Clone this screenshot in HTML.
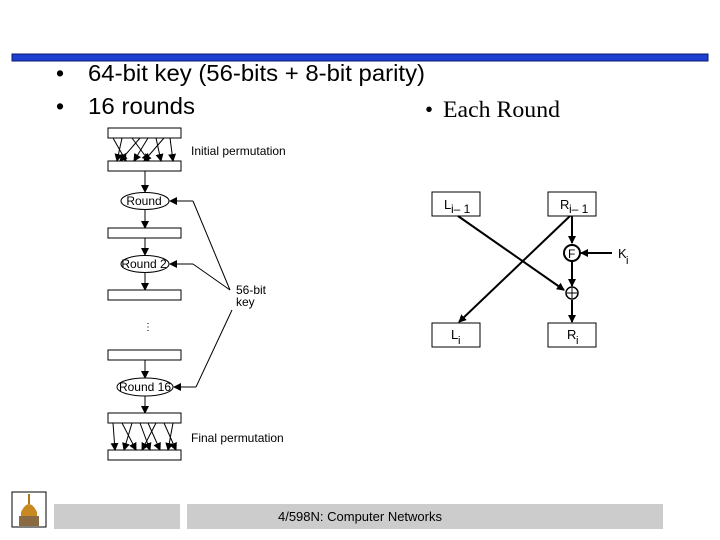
<!DOCTYPE html>
<html><head><meta charset="utf-8"><style>
body{margin:0;background:#fff;width:720px;height:540px;overflow:hidden;position:relative;font-family:"Liberation Sans",sans-serif}
</style></head><body>
<svg width="720" height="540" viewBox="0 0 720 540" xmlns="http://www.w3.org/2000/svg" style="position:absolute;left:0;top:0">
<defs>
<marker id="a" markerWidth="8" markerHeight="8" refX="7" refY="4" orient="auto" markerUnits="userSpaceOnUse"><path d="M0,0L8,4L0,8z" fill="#000"/></marker>
</defs>
<rect x="12" y="54" width="696" height="7" fill="#1c3fd0" stroke="#0a1a70" stroke-width="1"/>
<g font-size="23" fill="#000">
<text x="56" y="81">•</text><text x="88" y="81" textLength="337" lengthAdjust="spacingAndGlyphs">64-bit key (56-bits + 8-bit parity)</text>
<text x="56" y="114">•</text><text x="88" y="114" textLength="107" lengthAdjust="spacingAndGlyphs">16 rounds</text>
</g>
<text x="425" y="117" font-size="23" font-family="Liberation Serif,serif">•</text>
<text x="443" y="117" font-size="23" font-family="Liberation Serif,serif" textLength="117" lengthAdjust="spacingAndGlyphs">Each Round</text>
<g stroke="#000" fill="none" stroke-width="1">
<rect x="108" y="128" width="73" height="10" fill="#fff"/>
<rect x="108" y="161" width="73" height="10" fill="#fff"/>
<g marker-end="url(#a)">
<line x1="113" y1="138" x2="126" y2="161"/><line x1="122" y1="138" x2="117" y2="161"/>
<line x1="132" y1="138" x2="149" y2="161"/><line x1="140" y1="138" x2="120" y2="161"/>
<line x1="148" y1="138" x2="134" y2="161"/><line x1="156" y1="138" x2="161" y2="161"/>
<line x1="164" y1="138" x2="144" y2="161"/><line x1="170" y1="138" x2="173" y2="161"/>
</g>
<line x1="145" y1="171" x2="145" y2="192" marker-end="url(#a)"/>
<ellipse cx="145" cy="201" rx="24" ry="8.5" fill="#fff"/>
<line x1="145" y1="210" x2="145" y2="228" marker-end="url(#a)"/>
<rect x="108" y="228" width="73" height="10" fill="#fff"/>
<line x1="145" y1="238" x2="145" y2="255" marker-end="url(#a)"/>
<ellipse cx="145" cy="264" rx="24" ry="8.5" fill="#fff"/>
<line x1="145" y1="273" x2="145" y2="290" marker-end="url(#a)"/>
<rect x="108" y="290" width="73" height="10" fill="#fff"/>
<rect x="108" y="350" width="73" height="10" fill="#fff"/>
<line x1="145" y1="360" x2="145" y2="378" marker-end="url(#a)"/>
<ellipse cx="145" cy="387" rx="28" ry="9" fill="#fff"/>
<line x1="145" y1="396" x2="145" y2="413" marker-end="url(#a)"/>
<rect x="108" y="413" width="73" height="10" fill="#fff"/>
<rect x="108" y="450" width="73" height="10" fill="#fff"/>
<g marker-end="url(#a)">
<line x1="113" y1="423" x2="115" y2="450"/><line x1="122" y1="423" x2="136" y2="450"/>
<line x1="132" y1="423" x2="124" y2="450"/><line x1="140" y1="423" x2="150" y2="450"/>
<line x1="148" y1="423" x2="160" y2="450"/><line x1="156" y1="423" x2="142" y2="450"/>
<line x1="164" y1="423" x2="176" y2="450"/><line x1="173" y1="423" x2="168" y2="450"/>
</g>
<polyline points="193,201 230,290" /><line x1="193" y1="201" x2="170" y2="201" marker-end="url(#a)"/>
<polyline points="193,264 230,290" /><line x1="193" y1="264" x2="170" y2="264" marker-end="url(#a)"/>
<polyline points="196,387 232,310" /><line x1="196" y1="387" x2="174" y2="387" marker-end="url(#a)"/>
</g>
<g font-size="12" fill="#000">
<text x="144" y="205" text-anchor="middle">Round</text>
<text x="144" y="268" text-anchor="middle">Round 2</text>
<text x="145" y="391" text-anchor="middle">Round 16</text>
<text x="191" y="155">Initial permutation</text>
<text x="191" y="442">Final permutation</text>
<text x="236" y="294">56-bit</text>
<text x="236" y="306">key</text>
<text x="143" y="330" font-size="10">⋮</text>
</g>
<g stroke="#000" fill="none">
<rect x="432" y="192" width="48" height="24" stroke-width="1"/>
<rect x="548" y="192" width="48" height="24" stroke-width="1"/>
<rect x="432" y="323" width="48" height="24" stroke-width="1"/>
<rect x="548" y="323" width="48" height="24" stroke-width="1"/>
<g stroke-width="2">
<line x1="458" y1="216" x2="564" y2="290" marker-end="url(#a)"/>
<line x1="570" y1="216" x2="459" y2="322" marker-end="url(#a)"/>
<line x1="572" y1="216" x2="572" y2="243" marker-end="url(#a)"/>
<line x1="612" y1="253" x2="581" y2="253" marker-end="url(#a)"/>
<line x1="572" y1="261" x2="572" y2="286" marker-end="url(#a)"/>
<line x1="572" y1="300" x2="572" y2="322" marker-end="url(#a)"/>
<circle cx="572" cy="253" r="8" fill="#fff"/>
</g>
<circle cx="572" cy="293" r="6" fill="#fff" stroke-width="1.5"/>
<line x1="567" y1="293" x2="577" y2="293"/><line x1="572" y1="288" x2="572" y2="298"/>
</g>
<g font-size="13" fill="#000">
<text x="444" y="209">L</text><text x="451" y="213" font-size="12">i– 1</text>
<text x="560" y="209">R</text><text x="569" y="213" font-size="12">i– 1</text>
<text x="568" y="258" font-size="12">F</text>
<text x="618" y="258">K</text><text x="626" y="264" font-size="11">i</text>
<text x="451" y="339">L</text><text x="458" y="344" font-size="11">i</text>
<text x="567" y="339">R</text><text x="576" y="344" font-size="11">i</text>
</g>
<rect x="12" y="492" width="34" height="35" fill="#fff" stroke="#000"/>
<path d="M21,525 L21,512 Q29,496 37,512 L37,525z" fill="#c88a20"/>
<rect x="19" y="516" width="20" height="10" fill="#8a6a40"/>
<line x1="29" y1="494" x2="29" y2="504" stroke="#b07818" stroke-width="2"/>
<rect x="54" y="504" width="126" height="25" fill="#cccccc"/>
<rect x="187" y="504" width="476" height="25" fill="#cccccc"/>
<text x="360" y="521" font-size="13" text-anchor="middle" fill="#000">4/598N: Computer Networks</text>
</svg>
</body></html>
